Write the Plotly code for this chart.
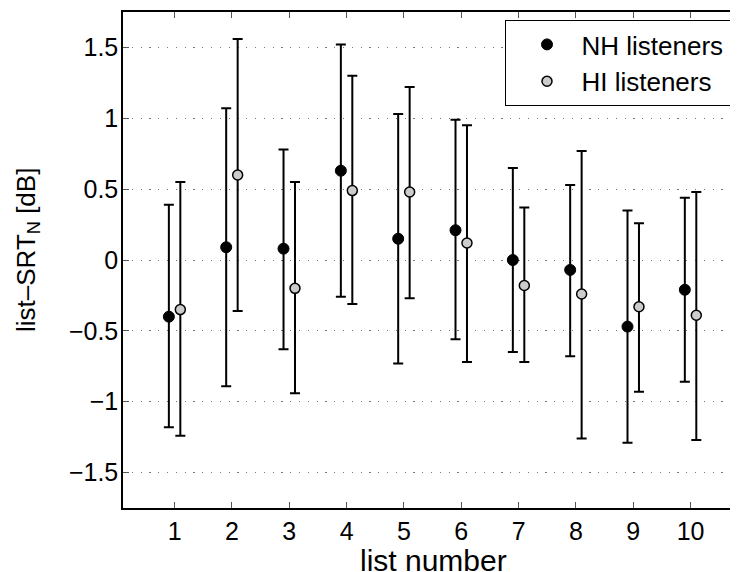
import plotly.graph_objects as go

lists = [1, 2, 3, 4, 5, 6, 7, 8, 9, 10]

nh_mean = [-0.40, 0.09, 0.08, 0.63, 0.15, 0.21, 0.00, -0.07, -0.47, -0.21]
nh_upper = [0.39, 1.07, 0.78, 1.52, 1.03, 0.99, 0.65, 0.53, 0.35, 0.44]
nh_lower = [-1.18, -0.89, -0.63, -0.26, -0.73, -0.56, -0.65, -0.68, -1.29, -0.86]

hi_mean = [-0.35, 0.60, -0.20, 0.49, 0.48, 0.12, -0.18, -0.24, -0.33, -0.39]
hi_upper = [0.55, 1.56, 0.55, 1.30, 1.22, 0.95, 0.37, 0.77, 0.26, 0.48]
hi_lower = [-1.24, -0.36, -0.94, -0.31, -0.27, -0.72, -0.72, -1.26, -0.93, -1.27]

y_ticks = [-1.5, -1, -0.5, 0, 0.5, 1, 1.5]
offset = 0.1

FONT = "Liberation Sans, Arial, Helvetica, sans-serif"
NB = "\u00a0"

# page has an 8px body margin: figure coords = page coords - 8
OFF = 8
W, H = 738 - OFF, 572 - OFF
L, T = 123 - OFF, 12 - OFF
BOT = 508 - OFF
B = H - BOT
PW, PH = W - L, BOT - T

fig = go.Figure()

fig.add_trace(go.Scatter(
    x=[v - offset for v in lists], y=nh_mean, mode="markers",
    name=NB * 2 + "NH listeners" + NB,
    marker=dict(color="black", size=11, line=dict(color="black", width=1)),
    error_y=dict(type="data", symmetric=False,
                 array=[u - m for u, m in zip(nh_upper, nh_mean)],
                 arrayminus=[m - l for l, m in zip(nh_lower, nh_mean)],
                 color="black", thickness=2, width=5),
))
fig.add_trace(go.Scatter(
    x=[v + offset for v in lists], y=hi_mean, mode="markers",
    name=NB * 2 + "HI listeners" + NB,
    marker=dict(color="#cccccc", size=10, line=dict(color="black", width=1.5)),
    error_y=dict(type="data", symmetric=False,
                 array=[u - m for u, m in zip(hi_upper, hi_mean)],
                 arrayminus=[m - l for l, m in zip(hi_lower, hi_mean)],
                 color="black", thickness=2, width=5),
))

fig.update_layout(
    width=W, height=H,
    margin=dict(l=L, r=0, t=T, b=B, autoexpand=False),
    plot_bgcolor="white", paper_bgcolor="white",
    font=dict(family=FONT, size=25, color="black"),
    showlegend=True,
    legend=dict(
        x=(505 - 123) / PW, y=1 - (20 - 12) / PH, xref="paper", yref="paper",
        xanchor="left", yanchor="top",
        bgcolor="white", bordercolor="black", borderwidth=1,
        font=dict(family=FONT, size=26, color="black"),
        indentation=21,
    ),
    annotations=[
        dict(text="list number", xref="paper", yref="paper",
             x=(433 - 123) / PW, y=0, xanchor="center", yanchor="middle",
             yshift=-(560 - 508), showarrow=False,
             font=dict(family=FONT, size=30, color="black")),
        dict(text="list–SRT<sub>N</sub> [dB]", xref="paper", yref="paper",
             x=0, y=1 - (250 - 12) / PH, xanchor="center", yanchor="middle",
             xshift=-(123 - 27), textangle=-90, showarrow=False,
             font=dict(family=FONT, size=26, color="black")),
    ],
)

fig.update_xaxes(
    range=[0.1, 0.1 + PW / 57.33],
    tickvals=lists, ticktext=[str(v) for v in lists],
    ticks="inside", ticklen=6, tickcolor="#555555", tickwidth=1,
    showline=True, linecolor="black", linewidth=1.5, mirror="ticks",
    showgrid=False, zeroline=False, automargin=False,
)
fig.update_yaxes(
    range=[-1.75, 1.75],
    tickvals=y_ticks,
    ticks="inside", ticklen=6, tickcolor="#555555", tickwidth=1,
    ticklabelstandoff=-2,
    showline=True, linecolor="black", linewidth=1.5, mirror=False,
    showgrid=True, gridcolor="#777777", gridwidth=1, griddash="1.2px,7.6px",
    zeroline=False, automargin=False,
)

fig.write_html("out.html")
